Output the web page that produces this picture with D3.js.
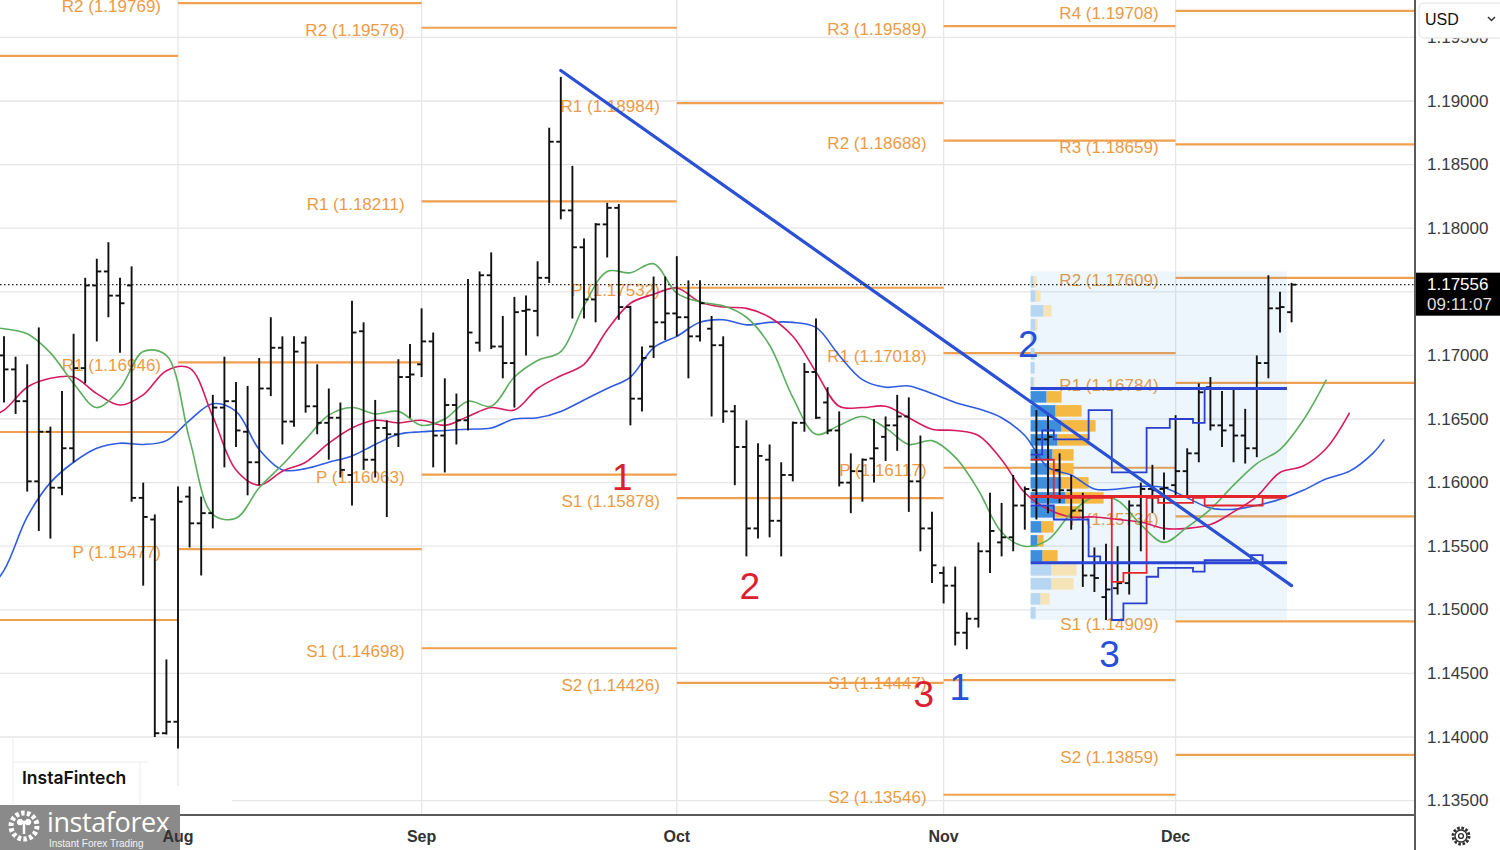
<!DOCTYPE html>
<html><head><meta charset="utf-8">
<script src="https://cdn.jsdelivr.net/npm/d3@7"></script>
<style>body{margin:0;background:#fff;overflow:hidden}svg{display:block;font-family:"Liberation Sans",Arial,sans-serif}</style>
</head><body><svg id="c" width="1500" height="850"></svg>
<script>
// ---------- DATA ----------
// bar index 0 = 1 Aug (daily bars, EUR/USD)
const firstBar = -15;
const opens  = [1.1700,1.1689,1.1664,1.1601,1.1640,1.1596,1.1627,1.1690,1.1755,1.1766,1.1747,1.1755,1.1588,1.1571,1.1403,
 1.1412,1.1589,1.1568,1.1576,1.1659,1.1664,1.1640,1.1616,1.1674,1.1706,1.1648,1.1710,1.1660,1.1647,1.1651,1.1606,1.1719,1.1618,1.1643,1.1638,1.1683,
 1.1693,1.1711,1.1637,1.1661,1.1649,1.1710,1.1763,1.1707,1.1694,1.1735,1.1735,1.1761,1.1868,1.1814,1.1785,1.1744,1.1803,1.1816,1.1738,1.1666,1.1707,1.1726,
 1.1733,1.1730,1.1715,1.1721,1.1708,1.1656,1.1628,1.1564,1.1618,1.1570,1.1606,1.1647,1.1687,1.1663,1.1641,1.1600,1.1609,1.1619,1.1636,1.1645,1.1652,1.1601,1.1564,
 1.1529,1.1519,1.1482,1.1493,1.1546,1.1553,1.1557,1.1582,1.1594,1.1634,1.1610,1.1594,1.1578,1.1527,1.1510,1.1517,1.1521,1.1582,1.1595,1.1595,
 1.1598,1.1609,1.1623,1.1675,1.1645,1.1645,1.1637,1.1627,1.1694,1.1737,1.1734];
const highs  = [1.1715,1.1699,1.1693,1.1722,1.1644,1.1672,1.1717,1.1761,1.1776,1.1789,1.1761,1.1770,1.1600,1.1575,1.1461,
 1.1597,1.1597,1.1589,1.1669,1.1699,1.1679,1.1676,1.1698,1.1730,1.1715,1.1715,1.1715,1.1693,1.1674,1.1663,1.1743,1.1726,1.1665,1.1649,1.1697,1.1709,
 1.1737,1.1718,1.1682,1.1670,1.1760,1.1766,1.1781,1.1731,1.1746,1.1747,1.1774,1.1879,1.1919,1.1849,1.1792,1.1804,1.1820,1.1819,1.1739,1.1707,1.1762,1.1762,
 1.1778,1.1759,1.1759,1.1731,1.1715,1.1661,1.1649,1.1631,1.1630,1.1616,1.1648,1.1694,1.1729,1.1675,1.1656,1.1623,1.1619,1.1650,1.1652,1.1669,1.1667,1.1637,1.1577,
 1.1534,1.1534,1.1498,1.1553,1.1592,1.1584,1.1606,1.1597,1.1657,1.1653,1.1623,1.1606,1.1592,1.1549,1.1552,1.1550,1.1586,1.1600,1.1614,1.1608,
 1.1653,1.1627,1.1678,1.1683,1.1672,1.1674,1.1658,1.1700,1.1763,1.1750,1.1757];
const lows   = [1.1663,1.1654,1.1593,1.1562,1.1556,1.1590,1.1616,1.1678,1.1711,1.1730,1.1702,1.1585,1.1519,1.1400,1.1402,
 1.1391,1.1549,1.1527,1.1564,1.1612,1.1628,1.1590,1.1598,1.1668,1.1630,1.1644,1.1655,1.1638,1.1618,1.1604,1.1582,1.1610,1.1604,1.1573,1.1628,1.1651,
 1.1683,1.1612,1.1608,1.1630,1.1641,1.1703,1.1705,1.1682,1.1659,1.1700,1.1715,1.1757,1.1807,1.1729,1.1729,1.1726,1.1777,1.1728,1.1645,1.1656,1.1698,1.1712,
 1.1715,1.1682,1.1711,1.1652,1.1647,1.1598,1.1542,1.1556,1.1557,1.1542,1.1601,1.1640,1.1650,1.1638,1.1597,1.1576,1.1585,1.1600,1.1617,1.1625,1.1577,1.1546,1.1521,
 1.1505,1.1472,1.1469,1.1486,1.1529,1.1542,1.1546,1.1563,1.1571,1.1576,1.1584,1.1563,1.1518,1.1514,1.1492,1.1512,1.1512,1.1546,1.1576,1.1555,
 1.1590,1.1590,1.1616,1.1641,1.1628,1.1616,1.1615,1.1620,1.1682,1.1718,1.1726];
const closes = [1.1689,1.1664,1.1601,1.1640,1.1596,1.1627,1.1690,1.1755,1.1766,1.1747,1.1741,1.1588,1.1573,1.1403,1.1412,
 1.1585,1.1568,1.1576,1.1659,1.1664,1.1641,1.1616,1.1674,1.1706,1.1648,1.1703,1.1660,1.1647,1.1651,1.1610,1.1718,1.1618,1.1643,1.1638,1.1683,1.1685,
 1.1711,1.1637,1.1661,1.1649,1.1718,1.1763,1.1707,1.1694,1.1734,1.1736,1.1761,1.1868,1.1814,1.1785,1.1744,1.1803,1.1816,1.1738,1.1666,1.1698,1.1726,1.1733,
 1.1730,1.1715,1.1741,1.1708,1.1656,1.1628,1.1564,1.1621,1.1570,1.1606,1.1647,1.1687,1.1651,1.1641,1.1600,1.1609,1.1618,1.1627,1.1645,1.1652,1.1601,1.1564,1.1535,
 1.1519,1.1482,1.1493,1.1546,1.1562,1.1557,1.1582,1.1595,1.1634,1.1636,1.1594,1.1578,1.1527,1.1525,1.1516,1.1521,1.1582,1.1595,1.1594,1.1596,
 1.1609,1.1623,1.1671,1.1645,1.1641,1.1637,1.1627,1.1694,1.1737,1.1738,1.17556];
const lastPrice = 1.17556, lastTime = "09:11:07";

// Alligator lines: [bar index, price] (already shifted)
const lips = [[-17,1.1722],[-15,1.1721],[-13,1.1717],[-11,1.1702],[-9,1.1678],[-7,1.1659],[-5,1.1674],[-3,1.1703],[-1,1.1700],[1,1.1634],[3,1.1575],[5,1.1572],[7,1.1596],[9,1.1614],[11,1.1634],[13,1.1653],[15,1.1659],[17,1.1654],[19,1.1656],[21,1.1645],[23,1.1650],[25,1.1664],[27,1.1660],[29,1.1683],[31,1.1696],[33,1.1703],[35,1.1739],[37,1.1766],[39,1.1765],[41,1.1772],[43,1.1749],[45,1.1742],[47,1.1739],[49,1.1730],[51,1.1708],[53,1.1667],[55,1.1638],[57,1.1645],[59,1.1652],[61,1.1643],[63,1.1630],[65,1.1633],[67,1.1620],[69,1.1594],[71,1.1561],[73,1.1550],[75,1.1555],[77,1.1576],[79,1.1589],[81,1.1586],[83,1.1567],[85,1.1553],[87,1.1565],[89,1.1579],[91,1.1598],[93,1.1615],[95,1.1626],[97,1.1649],[99,1.1681]];
const teeth = [[-17,1.1649],[-15,1.1657],[-13,1.1675],[-11,1.1682],[-9,1.1683],[-7,1.1670],[-5,1.1661],[-3,1.1669],[-1,1.1688],[1,1.1690],[3,1.1652],[5,1.1610],[7,1.1598],[9,1.1609],[11,1.1616],[13,1.1631],[15,1.1643],[17,1.1649],[19,1.1647],[21,1.1649],[23,1.1645],[25,1.1652],[27,1.1659],[29,1.1657],[31,1.1674],[33,1.1684],[35,1.1693],[37,1.1720],[39,1.1741],[41,1.1748],[43,1.1753],[45,1.1742],[47,1.1738],[49,1.1737],[51,1.1730],[53,1.1715],[55,1.1687],[57,1.1660],[59,1.1659],[61,1.1660],[63,1.1651],[65,1.1642],[67,1.1641],[69,1.1637],[71,1.1618],[73,1.1592],[75,1.1579],[77,1.1573],[79,1.1573],[81,1.1571],[83,1.1569],[85,1.1564],[87,1.1564],[89,1.1567],[91,1.1577],[93,1.1589],[95,1.1608],[97,1.1613],[99,1.1627],[101,1.1655]];
const jaw = [[-17,1.1508],[-15,1.1531],[-13,1.1573],[-11,1.1600],[-9,1.1616],[-7,1.1627],[-5,1.1631],[-3,1.1630],[-1,1.1633],[1,1.1649],[3,1.1662],[5,1.1656],[7,1.1626],[9,1.1610],[11,1.1611],[13,1.1616],[15,1.1621],[17,1.1630],[19,1.1638],[21,1.1640],[23,1.1641],[25,1.1642],[27,1.1643],[29,1.1650],[31,1.1651],[33,1.1656],[35,1.1665],[37,1.1674],[39,1.1683],[41,1.1706],[43,1.1715],[45,1.1726],[47,1.1728],[49,1.1724],[51,1.1726],[53,1.1726],[55,1.1722],[57,1.1700],[59,1.1681],[61,1.1675],[63,1.1676],[65,1.1670],[67,1.1663],[69,1.1658],[71,1.1651],[73,1.1637],[75,1.1612],[77,1.1606],[79,1.1595],[81,1.1595],[83,1.1597],[85,1.1596],[87,1.1588],[89,1.1580],[91,1.1579],[93,1.1582],[95,1.1587],[97,1.1594],[99,1.1603],[101,1.1609],[103,1.1623],[104,1.1634]];

// monthly pivot levels (July labels lie off-screen to the left)
const pivStart = [-20, 0, 21, 43, 66, 86];
const pivEnd   = [0, 21, 43, 66, 86, 120];
const pivJul = [["R1",1.19354],["P",1.16398],["S1",1.14920]];
const pivAug = [["R2",1.19769],["R1",1.16946],["P",1.15477]];
const pivSep = [["R2",1.19576],["R1",1.18211],["P",1.16063],["S1",1.14698]];
const pivOct = [["R1",1.18984],["P",1.17532],["S1",1.15878],["S2",1.14426]];
const pivNov = [["R3",1.19589],["R2",1.18688],["R1",1.17018],["P",1.16117],["S1",1.14447],["S2",1.13546]];
const pivDec = [["R4",1.19708],["R3",1.18659],["R2",1.17609],["R1",1.16784],["P",1.15734],["S1",1.14909],["S2",1.13859]];

// axes
const priceTicks = [1.135,1.140,1.145,1.150,1.155,1.160,1.165,1.170,1.175,1.180,1.185,1.190,1.195];
const monthIdx = [0, 21, 43, 66, 86];
const monthLabels = ["Aug","Sep","Oct","Nov","Dec"];

// trend line
const trend = [[33, 1.1924],[96, 1.1519]];

// fixed range volume profile (bars 74..95)
const vpFrom = 73.5, vpTo = 95.6, vpHigh = 1.1766, vpLow = 1.1492;
const vpRowPrice = [1.17578,1.17467,1.17350,1.17240,1.17122,1.17012,1.16902,1.16784,1.16674,1.16564,1.16446,1.16336,1.16218,1.16108,1.15998,1.15880,1.15770,1.15652,1.15542,1.15424,1.15314,1.15204,1.15086,1.14976];
const vpUp   = [3,5,13,5,3,4,4,3,16,25,31,27,22,18,31,35,24,11,7,12,21,21,10,5];
const vpDown = [3,5,8,2,0,0,0,1,15,26,34,32,21,25,27,38,26,12,6,15,25,22,9,0];
const vaHigh = 1.1674, vaLow = 1.1537, poc = 1.1589;
const devIdx = [74,75,76,77,78,79,80,81,82,83,84,85,86,87,88,89,90,91,92,93,94,95];
const devVAH = [1.1622,1.1641,1.1634,1.1634,1.1634,1.1657,1.1657,1.1608,1.1608,1.1608,1.1643,1.1643,1.1650,1.1650,1.1647,1.1674,1.1674,1.1674,1.1674,1.1674,1.1674,1.1674];
const devVAL = [1.1582,1.1582,1.1571,1.1571,1.1571,1.1542,1.1537,1.1492,1.1505,1.1505,1.1526,1.1533,1.1533,1.1533,1.1530,1.1539,1.1539,1.1539,1.1539,1.1543,1.1537,1.1537];
const devPOC = [1.1618,1.1618,1.1588,1.1588,1.1588,1.1588,1.1588,1.1522,1.1529,1.1529,1.1588,1.1584,1.1584,1.1584,1.1588,1.1582,1.1582,1.1582,1.1582,1.1582,1.1588,1.1588];

// wave annotations
const annoText  = ["1","2","3","1","2","3"];
const annoIdx   = [38.3, 49.3, 64.3, 67.4, 73.3, 80.3];
const annoPrice = [1.16037, 1.15180, 1.14331, 1.14386, 1.17082, 1.14646];
const annoColor = ["#dd2030","#dd2030","#dd2030","#2650d8","#2650d8","#2650d8"];

// ---------- CHART ----------
const W = 1500, H = 850, PW = 1415, PH = 815;
const svg = d3.select("#c");
const x = d3.scaleLinear().domain([0, 86]).range([178, 1175.6]);
const y = d3.scaleLinear().domain([1.13387, 1.19794]).range([PH, 0]);
svg.append("rect").attr("width", W).attr("height", H).attr("fill", "#fff");
svg.append("defs").append("clipPath").attr("id", "plot").append("rect").attr("width", PW).attr("height", PH);
const g = svg.append("g").attr("clip-path", "url(#plot)");

// grid
g.selectAll("line.hg").data(priceTicks).join("line").attr("class","hg")
  .attr("x1", 0).attr("x2", PW).attr("y1", d => y(d)).attr("y2", d => y(d))
  .attr("stroke", "#e6e6e8").attr("stroke-width", 1.3);
g.selectAll("line.vg").data(monthIdx).join("line").attr("class","vg")
  .attr("x1", d => x(d)).attr("x2", d => x(d)).attr("y1", 0).attr("y2", PH)
  .attr("stroke", "#e6e6e8").attr("stroke-width", 1.3);

// watermark box
g.append("rect").attr("x", 0).attr("y", 786).attr("width", 232).attr("height", 28).attr("fill", "#fff");
g.append("path").attr("d", "M13,737V815M13,762H148M140,762V815").attr("stroke", "#ececec").attr("fill", "none");
g.append("text").attr("x", 22).attr("y", 777).attr("dominant-baseline", "central")
  .attr("font-family", "Inter, 'Liberation Sans', sans-serif").attr("font-weight", 600)
  .attr("font-size", 17.5).attr("fill", "#111").text("InstaFintech");

// pivots
const pivSets = [pivJul, pivAug, pivSep, pivOct, pivNov, pivDec];
const pivG = g.append("g");
pivSets.forEach((set, k) => {
  pivG.selectAll(null).data(set).join("line")
    .attr("x1", x(pivStart[k])).attr("x2", x(pivEnd[k]))
    .attr("y1", d => y(d[1])).attr("y2", d => y(d[1]))
    .attr("stroke", "#f0a04e").attr("stroke-width", 2.2);
  const lx = x(pivStart[k]) - 17;
  if (lx > 60) {
    pivG.selectAll(null).data(set).join("text")
      .attr("x", lx).attr("y", d => y(d[1]) + 3)
      .attr("text-anchor", "end").attr("dominant-baseline", "central")
      .attr("font-size", 17).attr("fill", "#eb9b45")
      .text(d => `${d[0]} (${d[1].toFixed(5)})`);
  }
});

// volume profile
const vpG = g.append("g");
vpG.append("rect").attr("x", x(vpFrom)).attr("y", y(vpHigh))
  .attr("width", x(vpTo) - x(vpFrom)).attr("height", y(vpLow) - y(vpHigh))
  .attr("fill", "rgba(66,150,230,0.09)");
const vw = d3.scaleLinear().domain([0, 75]).range([0, 75]);
const rowH = 11.5;
vpRowPrice.forEach((p, k) => {
  const inVA = p <= vaHigh && p >= vaLow;
  vpG.append("rect").attr("x", x(vpFrom)).attr("y", y(p) - rowH / 2)
    .attr("width", vw(vpUp[k])).attr("height", rowH)
    .attr("fill", inVA ? "#3d8fdd" : "#b7d6f1");
  vpG.append("rect").attr("x", x(vpFrom) + vw(vpUp[k])).attr("y", y(p) - rowH / 2)
    .attr("width", vw(vpDown[k])).attr("height", rowH)
    .attr("fill", inVA ? "#f5b843" : "#f6e3b6");
});

// alligator
const ln = d3.line().x(d => x(d[0])).y(d => y(d[1])).curve(d3.curveCatmullRom.alpha(0.5));
g.append("path").attr("d", ln(jaw)).attr("fill", "none").attr("stroke", "#2f5be0").attr("stroke-width", 1.6);
g.append("path").attr("d", ln(teeth)).attr("fill", "none").attr("stroke", "#d81b60").attr("stroke-width", 1.6);
g.append("path").attr("d", ln(lips)).attr("fill", "none").attr("stroke", "#5cae5f").attr("stroke-width", 1.6);

// OHLC bars
const bars = opens.map((o, k) => ({ i: firstBar + k, o, h: highs[k], l: lows[k], c: closes[k] }));
const bg = g.append("g").attr("stroke", "#111").attr("stroke-width", 1.9);
bg.selectAll("line.hl").data(bars).join("line").attr("class","hl")
  .attr("x1", d => x(d.i)).attr("x2", d => x(d.i)).attr("y1", d => y(d.h)).attr("y2", d => y(d.l));
bg.selectAll("line.op").data(bars).join("line").attr("class","op")
  .attr("x1", d => x(d.i) - 4.5).attr("x2", d => x(d.i)).attr("y1", d => y(d.o)).attr("y2", d => y(d.o));
bg.selectAll("line.cl").data(bars).join("line").attr("class","cl")
  .attr("x1", d => x(d.i)).attr("x2", d => x(d.i) + 4.5).attr("y1", d => y(d.c)).attr("y2", d => y(d.c));

// developing VA / POC step lines
function steps(vals) {
  const pts = [];
  vals.forEach((v, k) => { pts.push([devIdx[k] - 0.5, v]); pts.push([devIdx[k] + 0.5, v]); });
  return pts;
}
const sl = d3.line().x(d => x(d[0])).y(d => y(d[1]));
g.append("path").attr("d", sl(steps(devVAH))).attr("fill", "none").attr("stroke", "#2a3fd0").attr("stroke-width", 1.8);
g.append("path").attr("d", sl(steps(devVAL))).attr("fill", "none").attr("stroke", "#2a3fd0").attr("stroke-width", 1.8);
g.append("path").attr("d", sl(steps(devPOC))).attr("fill", "none").attr("stroke", "#e3262c").attr("stroke-width", 1.8);
[[vaHigh, "#2a45d4"], [vaLow, "#2a45d4"], [poc, "#e3262c"]].forEach(([p, c]) => {
  g.append("line").attr("x1", x(vpFrom)).attr("x2", x(vpTo)).attr("y1", y(p)).attr("y2", y(p))
    .attr("stroke", c).attr("stroke-width", 3);
});

// trend line
g.append("line").attr("x1", x(trend[0][0])).attr("y1", y(trend[0][1]))
  .attr("x2", x(trend[1][0])).attr("y2", y(trend[1][1]))
  .attr("stroke", "#2a50d6").attr("stroke-width", 3.2).attr("stroke-linecap", "round");

// annotations
g.selectAll("text.anno").data(annoText).join("text").attr("class","anno")
  .attr("x", (d, k) => x(annoIdx[k])).attr("y", (d, k) => y(annoPrice[k]))
  .attr("text-anchor", "middle").attr("dominant-baseline", "central")
  .attr("font-size", 37).attr("fill", (d, k) => annoColor[k]).text(d => d);

// last price dotted line
g.append("line").attr("x1", 0).attr("x2", PW).attr("y1", y(lastPrice)).attr("y2", y(lastPrice))
  .attr("stroke", "#222").attr("stroke-width", 1.3).attr("stroke-dasharray", "1.5,2.5");

// axes frame
svg.append("line").attr("x1", 0).attr("x2", PW).attr("y1", PH).attr("y2", PH).attr("stroke", "#5a5a5a").attr("stroke-width", 2);
svg.append("line").attr("x1", PW).attr("x2", PW).attr("y1", 0).attr("y2", H).attr("stroke", "#5a5a5a").attr("stroke-width", 2);

// price axis labels (the one under the last-price tag is hidden)
svg.selectAll("text.pt").data(priceTicks.filter(p => Math.abs(y(p) - y(lastPrice)) > 22)).join("text").attr("class","pt")
  .attr("x", 1427).attr("y", d => y(d)).attr("dominant-baseline", "central")
  .attr("font-size", 17).attr("fill", "#3a3a3a").text(d => d.toFixed(5));

// last price tag
svg.append("rect").attr("x", 1416).attr("y", y(lastPrice) - 12).attr("width", 84).attr("height", 43).attr("fill", "#000");
svg.append("text").attr("x", 1427).attr("y", y(lastPrice)).attr("dominant-baseline", "central")
  .attr("font-size", 17).attr("fill", "#fff").text(lastPrice.toFixed(5));
svg.append("text").attr("x", 1427).attr("y", y(lastPrice) + 20).attr("dominant-baseline", "central")
  .attr("font-size", 17).attr("fill", "#ddd").text(lastTime);

// currency box
svg.append("rect").attr("x", 1419).attr("y", 3).attr("width", 90).attr("height", 35).attr("rx", 5)
  .attr("fill", "#fff").attr("stroke", "#e2e2e2");
svg.append("text").attr("x", 1425).attr("y", 19).attr("dominant-baseline", "central")
  .attr("font-size", 16).attr("fill", "#111").text("USD");
svg.append("path").attr("d", "M1488,17 l3.5,3.5 l3.5,-3.5").attr("stroke", "#333").attr("stroke-width", 1.5).attr("fill", "none");

// settings gear
svg.append("circle").attr("cx", 1461).attr("cy", 836).attr("r", 8).attr("fill", "none")
  .attr("stroke", "#333").attr("stroke-width", 3).attr("stroke-dasharray", "2.6,1.6");
svg.append("circle").attr("cx", 1461).attr("cy", 836).attr("r", 6).attr("fill", "#fff").attr("stroke", "#333").attr("stroke-width", 1.4);
svg.append("circle").attr("cx", 1461).attr("cy", 836).attr("r", 2.4).attr("fill", "none").attr("stroke", "#333").attr("stroke-width", 1.4);

// instaforex logo
const lg = svg.append("g");
lg.append("rect").attr("x", 0).attr("y", 805).attr("width", 180).attr("height", 45).attr("fill", "#8a8a8a");
lg.append("circle").attr("cx", 24).attr("cy", 826).attr("r", 13).attr("fill", "none").attr("stroke", "#fff")
  .attr("stroke-width", 5).attr("stroke-dasharray", "3.5,2.3");
lg.append("circle").attr("cx", 24).attr("cy", 826).attr("r", 8).attr("fill", "#8a8a8a");
lg.append("path").attr("d", "M18,822h12M24,822v12M20,820a2,2 0 1,0 0.1,0M28,820a2,2 0 1,0 0.1,0").attr("stroke", "#fff").attr("stroke-width", 2.5).attr("fill", "none");
lg.append("text").attr("x", 47).attr("y", 832).attr("font-size", 27).attr("fill", "#fff")
  .attr("font-family", "'Open Sans','Liberation Sans',sans-serif").attr("letter-spacing", -0.4).text("instaforex");
lg.append("text").attr("x", 49).attr("y", 847).attr("font-size", 10).attr("fill", "#f2f2f2").text("Instant Forex Trading");

// month labels (on top, "Aug" overlaps the logo as in the original)
svg.selectAll("text.mt").data(monthLabels).join("text").attr("class","mt")
  .attr("x", (d, k) => x(monthIdx[k])).attr("y", 836).attr("text-anchor", "middle")
  .attr("dominant-baseline", "central").attr("font-size", 16).attr("font-weight", "bold")
  .attr("fill", "#333").text(d => d);
</script></body></html>
